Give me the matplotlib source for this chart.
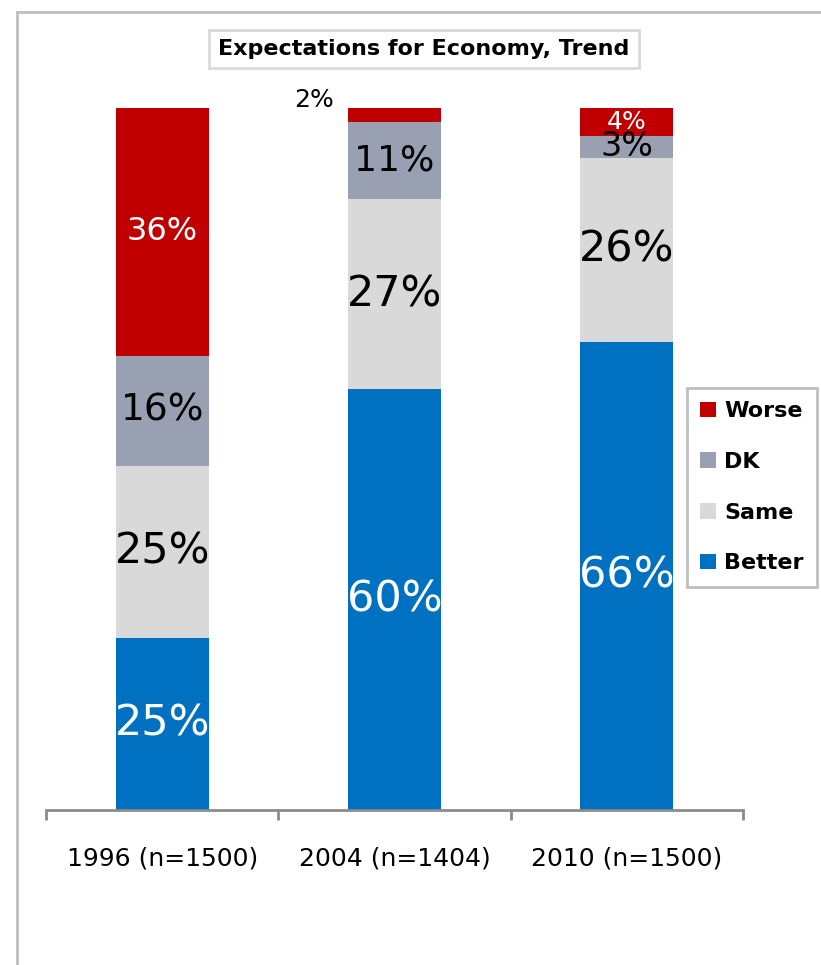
import matplotlib
matplotlib.use("Agg")
import matplotlib.pyplot as plt
import numpy as np
from matplotlib.patches import Patch
from matplotlib.lines import Line2D

# data (percent)
years = ["1996 (n=1500)", "2004 (n=1404)", "2010 (n=1500)"]
series = ["Better", "Same", "DK", "Worse"]
better = [25, 60, 66]
same = [25, 27, 26]
dk = [16, 11, 3]
worse = [36, 2, 4]

colors = ["#0070C0", "#D9D9D9", "#98A0B2", "#C00000"]
txtcol = ["white", "black", "black", "white"]
# label sizes per series and bar (excel autosized them)
lsize = [[31, 31, 31], [31, 31, 31], [27, 26, 24], [23, 18, 18]]

plt.rcParams['font.family'] = ['DejaVu Sans']

fig = plt.figure(figsize=(8.21, 9.65), dpi=100)
ax = fig.add_axes([46/821, 155/965, 697/821, 702/965])

vals = np.array([better, same, dk, worse], dtype=float)
tot = vals.sum(axis=0)
x = np.arange(len(years))
bottom = np.zeros(len(years))
for k in range(len(series)):
    h = vals[k] / tot
    ax.bar(x, h, 0.4, bottom=bottom, color=colors[k], label=series[k])
    for i in range(len(years)):
        yc = bottom[i] + h[i] / 2
        s = "%d%%" % vals[k][i]
        if series[k] == "Worse" and i == 1:
            # small slice, excel put the label outside
            ax.annotate(s, (x[i], yc), xytext=(-58, 11), textcoords="offset points",
                        ha="center", va="center", fontsize=lsize[k][i], color="black")
        else:
            ax.text(x[i], yc, s, ha="center", va="center",
                    fontsize=lsize[k][i], color=txtcol[k])
    bottom += h

ax.set_xlim(-0.5, 2.5)
ax.set_ylim(0, 1)
for sp in ["left", "right", "top"]:
    ax.spines[sp].set_visible(False)
ax.spines["bottom"].set_color("#8C8C8C")
ax.spines["bottom"].set_linewidth(2)
ax.set_yticks([])
ax.set_xticks(x)
ax.set_xticklabels(years, fontsize=18)
ax.set_xticks([-0.5, 0.5, 1.5, 2.5], minor=True)
ax.tick_params(axis="x", which="major", length=0, pad=26)
ax.tick_params(axis="x", which="minor", length=7, width=2, color="#8C8C8C")

handles = [Patch(facecolor=colors[k]) for k in range(len(series))][::-1]
leg = fig.legend(handles, series[::-1], loc="upper right",
                 bbox_to_anchor=(817/821, 1 - 388/965),
                 prop={"weight": "bold", "size": 16},
                 handlelength=0.72, handleheight=0.72, handletextpad=0.35,
                 labelspacing=1.38, borderpad=0.6, borderaxespad=0,
                 fancybox=False, edgecolor="#BFBFBF", framealpha=1)
leg.get_frame().set_linewidth(2)

fig.text(424/821, 1 - 49/965, "Expectations for Economy, Trend", ha="center", va="center",
         fontsize=16, fontweight="bold",
         bbox=dict(boxstyle="square,pad=0.42", facecolor="white", edgecolor="#D9D9D9", linewidth=2))

# outer chart frame (left and top edge only are visible)
fig.add_artist(Line2D([17/821, 17/821], [0, 1 - 12/965], color="#BFBFBF", lw=2,
                      transform=fig.transFigure))
fig.add_artist(Line2D([17/821, 1], [1 - 12/965, 1 - 12/965], color="#BFBFBF", lw=2,
                      transform=fig.transFigure))

fig.savefig("out.png", dpi=100)
